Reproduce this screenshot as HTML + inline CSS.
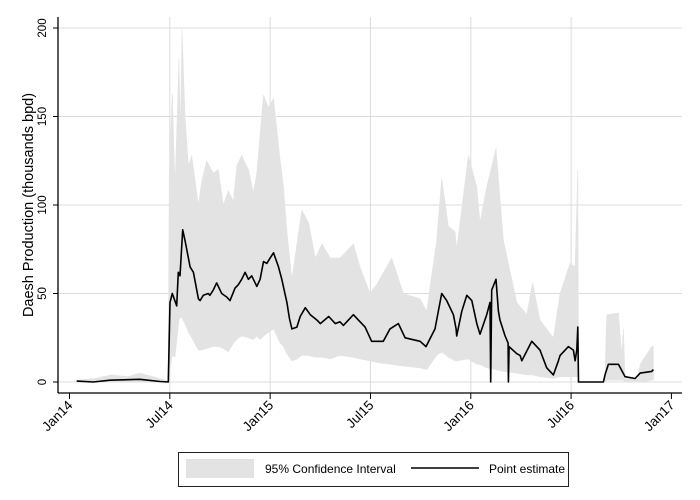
<!DOCTYPE html>
<html><head><meta charset="utf-8"><style>
html,body{margin:0;padding:0;background:#fff;}
svg{display:block;font-family:"Liberation Sans",Arial,sans-serif;}
</style></head><body>
<svg id="chart" width="700" height="500" viewBox="0 0 700 500">
<g id="grid"></g>
<g id="ci"></g>
<g id="est"></g>
<g id="axes"></g>
<text transform="translate(33,205) rotate(-90)" text-anchor="middle" font-size="14.5" fill="#000">Daesh Production (thousands bpd)</text>
<g>
<rect x="178.5" y="452.5" width="390" height="34" fill="#fff" stroke="#222" stroke-width="1"/>
<rect x="186" y="459" width="68" height="19" fill="#e3e3e3"/>
<text x="265" y="473" font-size="12">95% Confidence Interval</text>
<line x1="411" y1="468" x2="479" y2="468" stroke="#000" stroke-width="1.6"/>
<text x="489" y="473" font-size="12">Point estimate</text>
</g>
</svg>
<script>
// months since Jan 2014
const estMonths=[0.43,1.42,2.42,4.21,5.41,5.91,6.01,6.15,6.41,6.51,6.61,6.77,6.91,7.21,7.41,7.71,7.81,8.0,8.3,8.4,8.6,8.8,9.1,9.4,9.6,9.9,10.1,10.3,10.5,10.7,10.9,11.2,11.4,11.6,11.8,12.0,12.2,12.5,12.7,13.0,13.15,13.3,13.6,13.8,14.1,14.4,14.8,15.0,15.5,15.9,16.18,16.38,16.98,17.28,17.68,18.07,18.77,19.17,19.67,20.07,20.97,21.32,21.86,22.26,22.56,22.96,23.12,23.16,23.46,23.76,24.06,24.36,24.55,24.95,25.15,25.19,25.25,25.51,25.65,25.75,26.05,26.23,26.25,26.29,26.75,26.95,27.05,27.65,28.14,28.54,28.94,29.24,29.34,29.84,30.14,30.24,30.34,30.4,30.44,31.93,32.03,32.23,32.83,33.23,33.83,34.13,34.82,34.92];
const estValues=[0.5,0,1,1.5,0.3,0,45,50,43,62,60,86,80,65,62,47,46,49,50,49,52,56,50,48,46,53,55,58,62,58,60,54,58,68,67,70,73,65,58,45,36,30,31,37,42,38,35,33,37,33,34,32,38,35,31,23,23,30,33,25,23,20,30,50,46,38,30,26,40,49,46,33,27,38,45,0,52,58,40,35,26,22,0,20,16,15,12,23,18,8,4,12,15,20,18,12,18,31,0,0,4,10,10,3,2,5,6,7];
const ciMonths=[0.43,1.5,2.5,3.5,4.2,5.0,5.9,5.97,6.15,6.31,6.55,6.63,6.73,6.91,7.11,7.31,7.71,7.9,8.2,8.6,8.9,9.2,9.5,9.8,10.0,10.3,10.7,11.0,11.2,11.4,11.6,11.9,12.2,12.6,12.8,13.0,13.3,13.6,13.9,14.3,14.7,15.1,15.6,16.18,16.98,17.37,17.97,18.37,19.27,19.97,20.96,21.36,21.96,22.26,22.66,23.06,23.16,23.86,24.36,24.55,24.95,25.51,25.95,26.75,27.35,27.7,28.14,28.94,29.34,29.94,30.24,30.4,30.45,31.9,32.03,32.13,32.83,33.03,33.13,33.23,34.0,34.13,34.82,34.92];
const ciLow=[0,0,0.5,0.5,0.5,0.3,0,5,15,14,35,37,36,33,28,25,18,18,19,20,20,19,17,22,24,26,25,24,26,24,26,28,30,22,20,16,12,13,15,15,14,14,13,15,14,13,12,11,10,9,8,7,15,17,14,12,12,13,10,10,8,7,6,5,4,4,3,2,3,3,3,3,0,0,0,1,1,1,1,0,0,0,1,1];
const ciHigh=[1,2,4,3,5,3,0.5,120,163,110,183,140,199,150,122,128,100,113,125,118,120,100,108,102,122,128,120,107,118,140,162,155,160,125,110,85,58,78,97,90,70,78,70,70,78,65,50,55,70,50,47,40,80,115,88,85,75,128,110,90,110,132,80,45,38,56,35,25,50,67,65,120,0,0,4,38,39,15,30,2,2,10,20,20];
const yTicks=[0,50,100,150,200];
const xTickMonths=[0,6,12,18,24,30,36];
const xTickLabels=["Jan14","Jul14","Jan15","Jul15","Jan16","Jul16","Jan17"];

const X0=69.5, PXM=16.72, Y0=382, PYU=1.77;
function xs(m){return X0+m*PXM;}
function ys(v){return Y0-v*PYU;}
const NS="http://www.w3.org/2000/svg";
function mk(tag,attrs,parent){const e=document.createElementNS(NS,tag);for(const k in attrs)e.setAttribute(k,attrs[k]);parent.appendChild(e);return e;}
const grid=document.getElementById('grid'),axes=document.getElementById('axes');
const L=58,R=682,B=393,T=17;
yTicks.forEach(v=>{
  const g=mk('line',{x1:L,x2:R,y1:ys(v),y2:ys(v),stroke:'#dcdcdc','stroke-width':1},grid);
  
  
  const t=mk('line',{x1:L-5,x2:L,y1:ys(v),y2:ys(v),stroke:'#000','stroke-width':1},axes);
  
  
  const lb=mk('text',{transform:`translate(46,${ys(v)}) rotate(-90)`,'text-anchor':'middle','font-size':11.5},axes);
  lb.textContent=v;
  
  
});
xTickMonths.forEach((m,i)=>{
  const x=xs(m);
  if(i>0&&i<xTickMonths.length-1){
    const g=mk('line',{x1:x,x2:x,y1:T,y2:B,stroke:'#dcdcdc','stroke-width':1},grid);
    
    
  }
  const t=mk('line',{x1:x,x2:x,y1:B,y2:B+6,stroke:'#000','stroke-width':1},axes);
  
  
  const lb=mk('text',{transform:`translate(${x+4},${B+13}) rotate(-45)`,'text-anchor':'end','font-size':13.5},axes);
  lb.textContent=xTickLabels[i];
  
  
});
const ya=mk('line',{x1:L,x2:L,y1:T,y2:B,stroke:'#000','stroke-width':1.3},axes);


const xa=mk('line',{x1:L,x2:R,y1:B,y2:B,stroke:'#000','stroke-width':1.3},axes);



let d='';
ciMonths.forEach((m,i)=>{d+=(i?'L':'M')+xs(m).toFixed(1)+','+ys(ciHigh[i]).toFixed(1);});
for(let i=ciMonths.length-1;i>=0;i--){d+='L'+xs(ciMonths[i]).toFixed(1)+','+ys(ciLow[i]).toFixed(1);}
const band=mk('path',{d:d+'Z',fill:'#e3e3e3',stroke:'#e3e3e3','stroke-width':0.6},document.getElementById('ci'));



const pts=estMonths.map((m,i)=>xs(m).toFixed(1)+','+ys(estValues[i]).toFixed(1)).join(' ');
const ln=mk('polyline',{points:pts,fill:'none',stroke:'#000','stroke-width':1.6,'stroke-linejoin':'round'},document.getElementById('est'));


</script>
</body></html>
